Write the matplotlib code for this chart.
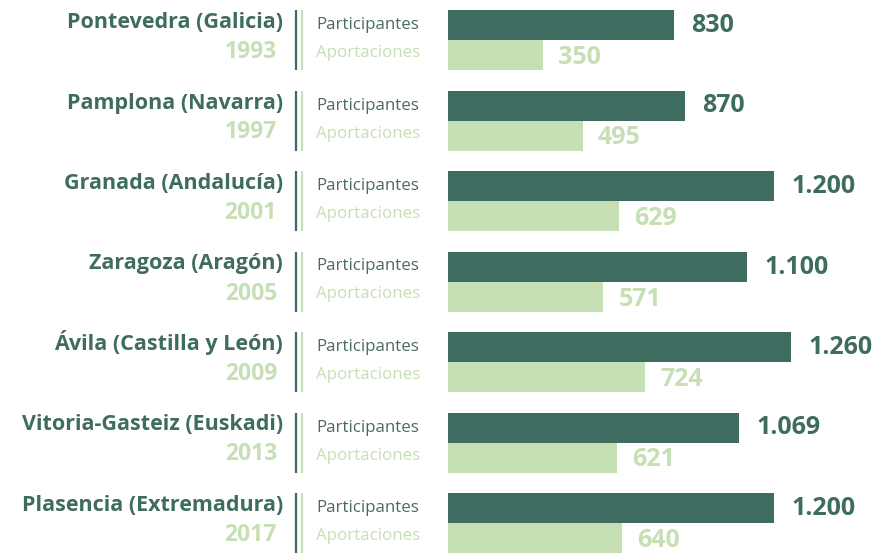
import matplotlib
matplotlib.use('Agg')
import matplotlib.pyplot as plt
from matplotlib.transforms import blended_transform_factory

# Consts
DARK = '#3e6c60'
LIGHT = '#c6dfb4'
TEXT_GREY = '#4d6a62'
FONT = ['Open Sans', 'DejaVu Sans']

cities = ['Pontevedra (Galicia)', 'Pamplona (Navarra)', 'Granada (Andalucía)',
          'Zaragoza (Aragón)', 'Ávila (Castilla y León)', 'Vitoria-Gasteiz (Euskadi)',
          'Plasencia (Extremadura)']
years = ['1993', '1997', '2001', '2005', '2009', '2013', '2017']
participantes = [830, 870, 1200, 1100, 1260, 1069, 1200]
aportaciones = [350, 495, 629, 571, 724, 621, 640]


def fmt(v):
    return f'{v:,}'.replace(',', '.')


def main():
    plt.rcParams['font.family'] = FONT
    W, H = 877, 553
    fig = plt.figure(figsize=(W / 100, H / 100), dpi=100)

    # bar area starts at x=448px
    ax = fig.add_axes([448 / W, 0, 1 - 448 / W, 1])
    pitch = 80.5  # px per group
    top = 40      # px centre of first group
    ax.set_ylim((H - top) / pitch, -top / pitch)
    ax.set_xlim(0, (W - 448) / 0.272)
    ax.axis('off')

    h = 30 / pitch
    n = len(cities)
    ys = list(range(n))
    ax.barh([y - h / 2 for y in ys], participantes, height=h, color=DARK, align='center')
    ax.barh([y + h / 2 for y in ys], aportaciones, height=h, color=LIGHT, align='center')

    px = 1 / pitch
    for y, p, a in zip(ys, participantes, aportaciones):
        ax.annotate(fmt(p), (p, y - 8 * px), xytext=(12.5, 0), textcoords='offset points',
                    va='baseline', ha='left', color=DARK, fontsize=18, fontweight='bold')
        ax.annotate(fmt(a), (a, y + 24 * px), xytext=(11, 0), textcoords='offset points',
                    va='baseline', ha='left', color=LIGHT, fontsize=18, fontweight='bold')

    tr = blended_transform_factory(fig.transFigure, ax.transData)
    for y, c, yr in zip(ys, cities, years):
        ax.text(283 / W, y - 12 * px, c, transform=tr, ha='right', va='baseline',
                color=DARK, fontsize=15.5, fontweight='bold')
        ax.text(277 / W, y + 18 * px, yr, transform=tr, ha='right', va='baseline',
                color=LIGHT, fontsize=16.5, fontweight='bold')
        ax.text(316 / W, y - 11 * px, 'Participantes', transform=tr, ha='left',
                va='baseline', color=TEXT_GREY, fontsize=12.2)
        ax.text(316 / W, y + 17 * px, 'Aportaciones', transform=tr, ha='left',
                va='baseline', color=LIGHT, fontsize=12.2)
        ax.plot([296 / W] * 2, [y - h, y + h], transform=tr, color=DARK, lw=1.6,
                clip_on=False, solid_capstyle='butt')
        ax.plot([301.5 / W] * 2, [y - h, y + h], transform=tr, color=LIGHT, lw=1.6,
                clip_on=False, solid_capstyle='butt')

    fig.savefig('out.png', dpi=100)


if __name__ == '__main__':
    main()
